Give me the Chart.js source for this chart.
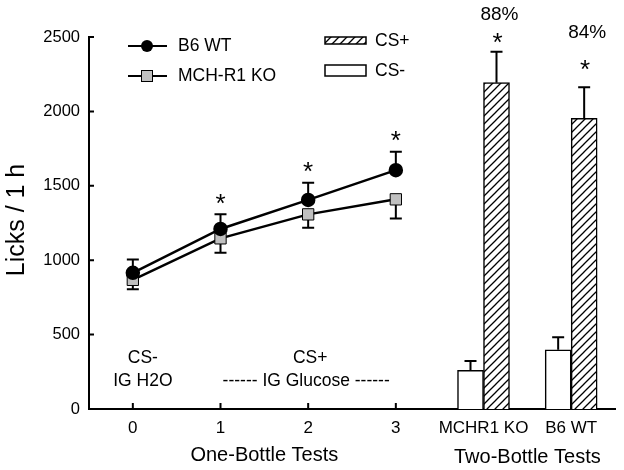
<!DOCTYPE html>
<html>
<head>
<meta charset="utf-8">
<script src="https://cdn.jsdelivr.net/npm/chart.js@4.4.1/dist/chart.umd.min.js"></script>
<style>
    body { margin: 0; background: #fff; }
</style>
</head>
<body>
<canvas id="licks-chart" width="624" height="470"></canvas>
<script>
// One-bottle tests (sessions 0-3)
const sessions = [0, 1, 2, 3];
const wtMean = [915, 1210, 1405, 1605];
const wtSem = [90, 98, 116, 123];
const koMean = [868, 1147, 1308, 1409];
const koSem = [64, 97, 90, 128];
const sigSessions = [false, true, true, true];

// Two-bottle tests
const groupPos = [4, 5];
const groupLabels = ["MCHR1 KO", "B6 WT"];
const csMinus = [260, 398];
const csMinusSem = [62, 84];
const csPlus = [2193, 1954];
const csPlusSem = [208, 208];
const prefPct = ["88%", "84%"];

const yTicks = [0, 500, 1000, 1500, 2000, 2500];

const FONT = "'Liberation Sans', Arial, sans-serif";
const canvas = document.getElementById("licks-chart");
const ctx = canvas.getContext("2d");

function makeHatch() {
    const c = document.createElement("canvas");
    c.width = 8;
    c.height = 8;
    const g = c.getContext("2d");
    g.fillStyle = "#fff";
    g.fillRect(0, 0, 8, 8);
    g.strokeStyle = "#000";
    g.lineWidth = 1.3;
    g.beginPath();
    g.moveTo(-1, 9); g.lineTo(9, -1);
    g.moveTo(-3, 3); g.lineTo(3, -3);
    g.moveTo(5, 11); g.lineTo(11, 5);
    g.stroke();
    return ctx.createPattern(c, "repeat");
}
const hatch = makeHatch();

function tickLabel(v) {
    if (v <= 3) return String(v);
    return groupLabels[groupPos.indexOf(v)];
}

// error bars, drawn behind the markers
const errorBars = {
    id: "errorBars",
    beforeDatasetsDraw(chart) {
        const xs = chart.scales.x, ys = chart.scales.y;
        const c = chart.ctx;
        c.save();
        c.strokeStyle = "#000";
        c.lineWidth = 2;
        function bar(px, from, to, cap) {
            const y0 = ys.getPixelForValue(from), y1 = ys.getPixelForValue(to);
            c.beginPath();
            c.moveTo(px, y0); c.lineTo(px, y1);
            c.moveTo(px - cap, y1); c.lineTo(px + cap, y1);
            c.stroke();
        }
        sessions.forEach((s, i) => {
            const px = xs.getPixelForValue(s);
            bar(px, wtMean[i], wtMean[i] + wtSem[i], 6);
            bar(px, koMean[i], koMean[i] - koSem[i], 6);
        });
        chart.getDatasetMeta(2).data.forEach((el, i) => {
            bar(el.x, csMinus[i], csMinus[i] + csMinusSem[i], 6);
        });
        chart.getDatasetMeta(3).data.forEach((el, i) => {
            bar(el.x, csPlus[i], csPlus[i] + csPlusSem[i], 6);
        });
        c.restore();
    }
};

// legend, stars, labels and axis titles
const decorations = {
    id: "decorations",
    afterDraw(chart) {
        const xs = chart.scales.x, ys = chart.scales.y, area = chart.chartArea;
        const c = chart.ctx;
        c.save();
        c.fillStyle = "#000";
        c.strokeStyle = "#000";

        // inward tick marks
        c.lineWidth = 2;
        c.beginPath();
        yTicks.forEach((v) => {
            const py = ys.getPixelForValue(v);
            c.moveTo(area.left, py); c.lineTo(area.left + 5, py);
        });
        sessions.forEach((s) => {
            const px = xs.getPixelForValue(s);
            c.moveTo(px, area.bottom); c.lineTo(px, area.bottom - 6);
        });
        c.stroke();

        // y title
        c.save();
        c.translate(17, (area.top + area.bottom) / 2 - 3);
        c.rotate(-Math.PI / 2);
        c.font = "25px " + FONT;
        c.textAlign = "center";
        c.textBaseline = "middle";
        c.fillText("Licks / 1 h", 0, 0);
        c.restore();

        // x titles
        c.font = "20px " + FONT;
        c.textAlign = "center";
        c.textBaseline = "middle";
        c.fillText("One-Bottle Tests", xs.getPixelForValue(1.5), area.bottom + 46);
        c.fillText("Two-Bottle Tests", xs.getPixelForValue(4.5), area.bottom + 48);

        // condition labels
        c.font = "17.5px " + FONT;
        c.fillText("CS-", xs.getPixelForValue(0) + 10, area.bottom - 51);
        c.fillText("IG H2O", xs.getPixelForValue(0) + 10, area.bottom - 28);
        c.fillText("CS+", xs.getPixelForValue(2) + 2, area.bottom - 51);
        c.fillText("------ IG Glucose ------", xs.getPixelForValue(2) - 2, area.bottom - 28);

        // significance stars
        c.font = "26px " + FONT;
        sessions.forEach((s, i) => {
            if (!sigSessions[i]) return;
            const py = ys.getPixelForValue(wtMean[i] + wtSem[i]);
            c.fillText("*", xs.getPixelForValue(s), py - 16 + 6);
        });
        const plusMeta = chart.getDatasetMeta(3);
        const starGap = [14, 22];
        const pctGap = [23, 33];
        plusMeta.data.forEach((el, i) => {
            const py = ys.getPixelForValue(csPlus[i] + csPlusSem[i]);
            c.font = "26px " + FONT;
            c.fillText("*", el.x + 1, py - starGap[i] + 6);
            c.font = "19px " + FONT;
            c.fillText(prefPct[i], el.x + 3, py - starGap[i] - pctGap[i]);
        });

        // legend: lines
        c.lineWidth = 2;
        c.beginPath();
        c.moveTo(128, 46); c.lineTo(167, 46);
        c.moveTo(128, 76); c.lineTo(167, 76);
        c.stroke();
        c.beginPath();
        c.arc(147, 46, 6, 0, Math.PI * 2);
        c.fill();
        c.fillStyle = "#c0c0c0";
        c.fillRect(141.5, 70.5, 11, 11);
        c.lineWidth = 1;
        c.strokeRect(141.5, 70.5, 11, 11);

        // legend: bars
        c.lineWidth = 1.5;
        c.fillStyle = hatch;
        c.fillRect(325, 37, 41, 7);
        c.strokeRect(325, 37, 41, 7);
        c.fillStyle = "#fff";
        c.fillRect(325, 65, 41, 11);
        c.strokeRect(325, 65, 41, 11);

        c.fillStyle = "#000";
        c.font = "17.5px " + FONT;
        c.textAlign = "left";
        c.fillText("B6 WT", 178, 46);
        c.fillText("MCH-R1 KO", 178, 76);
        c.fillText("CS+", 375, 41);
        c.fillText("CS-", 375, 71);
        c.restore();
    }
};

new Chart(ctx, {
    type: "bar",
    data: {
        datasets: [
            {
                type: "line",
                label: "B6 WT",
                data: sessions.map((s, i) => ({ x: s, y: wtMean[i] })),
                borderColor: "#000",
                borderWidth: 2.5,
                pointStyle: "circle",
                pointRadius: 6,
                pointBackgroundColor: "#000",
                pointBorderColor: "#000",
                order: 0
            },
            {
                type: "line",
                label: "MCH-R1 KO",
                data: sessions.map((s, i) => ({ x: s, y: koMean[i] })),
                borderColor: "#000",
                borderWidth: 2.5,
                pointStyle: "rect",
                pointRadius: 8,
                pointBorderWidth: 1,
                pointBackgroundColor: "#c0c0c0",
                pointBorderColor: "#000",
                order: 1
            },
            {
                label: "CS-",
                data: groupPos.map((g, i) => ({ x: g, y: csMinus[i] })),
                backgroundColor: "#fff",
                borderColor: "#000",
                borderWidth: 1.5,
                barThickness: 26,
                order: 2
            },
            {
                label: "CS+",
                data: groupPos.map((g, i) => ({ x: g, y: csPlus[i] })),
                backgroundColor: hatch,
                borderColor: "#000",
                borderWidth: 1.5,
                barThickness: 26,
                order: 2
            }
        ]
    },
    options: {
        responsive: false,
        animation: false,
        layout: { padding: { left: 0, right: 8, top: 37, bottom: 0 } },
        plugins: {
            legend: { display: false },
            tooltip: { enabled: false }
        },
        scales: {
            x: {
                type: "linear",
                min: -0.5,
                max: 5.5,
                offset: false,
                afterBuildTicks: (s) => { s.ticks = sessions.concat(groupPos).map((v) => ({ value: v })); },
                afterFit: (s) => { s.height = 61; },
                grid: { display: false, drawTicks: false },
                border: { display: true, color: "#000", width: 2 },
                ticks: {
                    autoSkip: false,
                    maxRotation: 0,
                    padding: 9,
                    color: "#000",
                    font: { family: FONT, size: 17 },
                    callback: (v) => tickLabel(v)
                }
            },
            y: {
                min: 0,
                max: 2500,
                afterBuildTicks: (s) => { s.ticks = yTicks.map((v) => ({ value: v })); },
                afterFit: (s) => { s.width = 89; },
                grid: { display: false, drawTicks: false },
                border: { display: true, color: "#000", width: 2 },
                ticks: {
                    padding: 9,
                    color: "#000",
                    font: { family: FONT, size: 16.5 },
                    callback: (v) => String(v)
                }
            }
        }
    },
    plugins: [errorBars, decorations]
});
</script>
</body>
</html>
